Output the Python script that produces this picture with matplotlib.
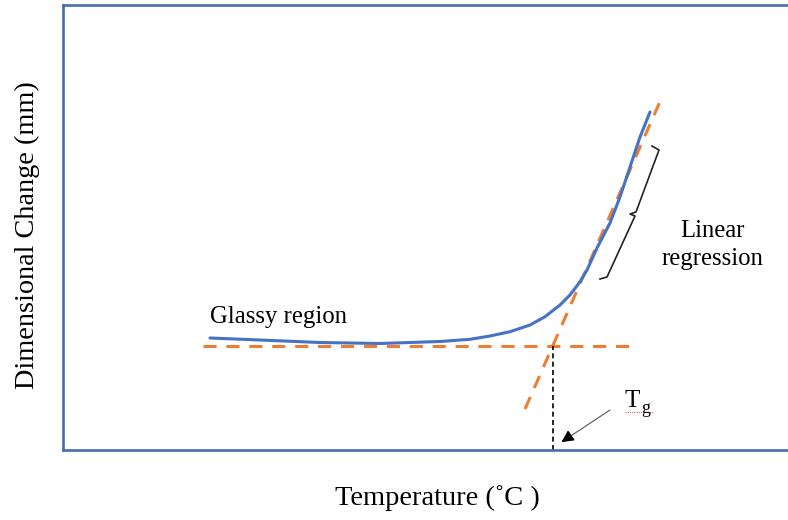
import matplotlib.pyplot as plt
import numpy as np

plt.rcParams['font.family'] = ['Liberation Serif', 'DejaVu Serif']

# Measured dilatometer trace (temperature, dimensional change), arbitrary units
temp = [147, 197, 257, 317, 377, 407, 427, 447, 467, 482, 497, 507, 517,
        524, 534, 547, 557, 567, 577, 587]
change = [112, 110, 107.5, 106.5, 108.5, 110.7, 114, 118.3, 125, 133.3, 145,
          155, 168.3, 180, 202, 227, 253, 283, 313, 338]

# Glassy baseline and linear regression of the rubbery part
base_x = [140, 567]
base_y = [104, 104]
fit_x = [462, 599]
fit_y = [41, 353]

# bracket marking the points used for the regression
brace_x = [589, 596, 573, 567, 572, 544, 537]
brace_y = [304, 300, 238, 236, 234, 173, 171]

fig = plt.figure(figsize=(7.88, 5.2), dpi=100)
ax = fig.add_axes([63 / 788, 70 / 520, 725 / 788, 445 / 520])
ax.set_xlim(0, 725)
ax.set_ylim(0, 445)

orange = '#ED7D31'
blue = '#4472C4'

ax.plot(base_x, base_y, color=orange, lw=2.2, ls=(0, (4.3, 3.2)))
ax.plot(fit_x, fit_y, color=orange, lw=2.2, ls=(0, (4.3, 3.2)))
ax.plot(temp, change, color=blue, lw=2.2, solid_joinstyle='round',
        solid_capstyle='round')

# Tg = intersection of baseline and regression line
slope = (fit_y[1] - fit_y[0]) / (fit_x[1] - fit_x[0])
tg = fit_x[0] + (base_y[0] - fit_y[0]) / slope
ax.plot([tg, tg], [0, base_y[0]], color='black', lw=1.2, ls=(0, (3, 2)))

ax.plot(brace_x, brace_y, color='#222222', lw=1.2)

ax.annotate('', xy=(tg + 9, 8), xytext=(547, 40),
            arrowprops=dict(arrowstyle='-|>', color='#555555', lw=0.8,
                            mutation_scale=18, shrinkA=0, shrinkB=0))
ax.annotate('', xy=(tg + 9, 8), xytext=(tg + 14, 11.5),
            arrowprops=dict(arrowstyle='-|>', color='black', lw=0.8,
                            mutation_scale=18, shrinkA=0, shrinkB=0))

ax.text(562, 43, 'T', fontsize=18, va='baseline', ha='left')
ax.text(578, 37, 'g', fontsize=13, va='baseline', ha='left')
ax.plot([562, 590], [38.5, 38.5], color='#E06060', lw=0.8, ls=(0, (1, 1)))

ax.text(147, 127, 'Glassy region', fontsize=17.8, va='baseline', ha='left')
ax.text(650, 213, 'Linear', fontsize=17.8, va='baseline', ha='center')
ax.text(650, 185, 'regression', fontsize=17.8, va='baseline', ha='center')

ax.set_xticks([])
ax.set_yticks([])
for side in ['left', 'bottom', 'top']:
    ax.spines[side].set_color('#4A6EAA')
    ax.spines[side].set_linewidth(1.9)
ax.spines['right'].set_visible(False)

fig.text(437 / 788, 1 - 505 / 520, 'Temperature (˚C )', fontsize=20.5,
         ha='center', va='baseline')
fig.text(27 / 788, 1 - 235 / 520, 'Dimensional Change (mm)', fontsize=20.3,
         ha='center', va='center', rotation=90)

fig.savefig('out.png', dpi=100)
